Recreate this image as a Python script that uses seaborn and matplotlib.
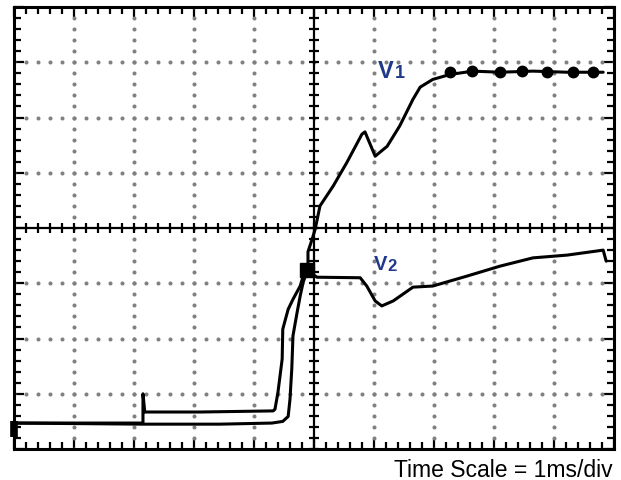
import numpy as np
import pandas as pd
import matplotlib
matplotlib.use("Agg")
import matplotlib.pyplot as plt
import seaborn as sns

# scope screen: x in ms (1 ms/div), y in divisions, centre of screen = (0, 0)
v1_t = [-5.0, -2.85, -1.57, -0.70, -0.52, -0.43, -0.40, -0.37, -0.35, -0.28, -0.23,
        -0.18, -0.10, -0.10, -0.03, 0.02, 0.10, 0.32, 0.55, 0.80, 0.85, 1.02, 1.22,
        1.43, 1.65, 1.77, 1.98, 2.27, 2.65, 3.10, 3.65, 4.22, 4.82]
v1_v = [-3.53, -3.55, -3.55, -3.53, -3.50, -3.41, -3.10, -2.55, -1.95, -1.52, -1.23,
        -0.98, -0.74, -0.43, -0.20, -0.02, 0.40, 0.76, 1.19, 1.70, 1.74, 1.30, 1.48,
        1.85, 2.33, 2.55, 2.69, 2.78, 2.84, 2.82, 2.84, 2.82, 2.82]

v2_t = [-5.0, -2.85, -2.85, -2.82, -1.90, -0.68, -0.65, -0.60, -0.53, -0.52, -0.43,
        -0.35, -0.23, -0.18, -0.10, 0.05, 0.77, 0.88, 1.02, 1.13, 1.32, 1.65, 1.98,
        2.55, 3.10, 3.65, 4.22, 4.82, 4.87]
v2_v = [-3.53, -3.53, -3.00, -3.33, -3.33, -3.31, -3.28, -2.97, -2.37, -1.83, -1.47,
        -1.29, -1.05, -0.87, -0.78, -0.89, -0.90, -1.05, -1.32, -1.41, -1.32, -1.07,
        -1.05, -0.87, -0.69, -0.54, -0.49, -0.40, -0.60]

# thick blobs along the settled V1 level
blob_t = [2.27, 2.63, 3.10, 3.47, 3.88, 4.32, 4.65]
blob_v = [2.83, 2.84, 2.82, 2.84, 2.83, 2.83, 2.83]

# ground-level marker on the left edge and trigger point
gnd_t, gnd_v = [-5.0], [-3.64]
trig_t, trig_v = [-0.12], [-0.76]

df = pd.concat([
    pd.DataFrame({"t": v1_t, "v": v1_v, "trace": "V1"}),
    pd.DataFrame({"t": v2_t, "v": v2_v, "trace": "V2"}),
], ignore_index=True)

sns.set_style("white")
plt.rcParams["font.family"] = ["Liberation Sans", "DejaVu Sans"]

fig = plt.figure(figsize=(6.21, 4.81), dpi=100)
ax = fig.add_axes([0.0225, 0.0644, 0.9662, 0.9189])
ax.set_xlim(-5, 5)
ax.set_ylim(-4, 4)

minor_x = np.arange(-5, 5.001, 0.2)
minor_y = np.arange(-4, 4.001, 0.2)

# dotted graticule
for gx in range(-4, 5):
    if gx != 0:
        ax.plot(np.full(len(minor_y), gx), minor_y, ls="none", marker="o",
                ms=1.9, color="#808080", zorder=1)
for gy in range(-3, 4):
    if gy != 0:
        ax.plot(minor_x, np.full(len(minor_x), gy), ls="none", marker="o",
                ms=1.9, color="#808080", zorder=1)

# centre axes with their small ticks
ax.axhline(0, color="black", lw=1.6, zorder=2)
ax.axvline(0, color="black", lw=1.6, zorder=2)
ax.plot(minor_x, np.zeros(len(minor_x)), ls="none", marker="|", ms=7, mew=1.6,
        color="black", zorder=2)
ax.plot(np.zeros(len(minor_y)), minor_y, ls="none", marker="_", ms=7, mew=1.6,
        color="black", zorder=2)

# traces
sns.lineplot(data=df, x="t", y="v", hue="trace", units="trace",
             palette={"V1": "black", "V2": "black"}, sort=False, estimator=None,
             legend=False, lw=2.2, ax=ax, zorder=3)
ax.plot(blob_t, blob_v, ls="none", marker="o", ms=7.5, color="black", zorder=3)
ax.plot(gnd_t, gnd_v, ls="none", marker="|", ms=12, mew=5.5, color="black",
        zorder=4, clip_on=False)
ax.plot(trig_t, trig_v, ls="none", marker="s", ms=10, color="black", zorder=4)

# frame with ticks on all edges
for side in ax.spines.values():
    side.set_linewidth(2.2)
    side.set_color("black")
ax.set_xticks(np.arange(-5, 5.001, 1))
ax.set_yticks(np.arange(-4, 4.001, 1))
ax.set_xticks(minor_x, minor=True)
ax.set_yticks(minor_y, minor=True)
ax.tick_params(which="both", direction="in", top=True, right=True, bottom=True,
               left=True, labelbottom=False, labelleft=False, width=1.6,
               color="black")
ax.tick_params(which="major", length=7)
ax.tick_params(which="minor", length=5)
ax.set_xlabel("")
ax.set_ylabel("")

label_color = "#1f3a8a"
ax.text(1.06, 2.73, "V", fontsize=17, fontweight="bold", color=label_color,
        va="baseline", ha="left", zorder=5)
ax.text(1.35, 2.73, "1", fontsize=13, fontweight="bold", color=label_color,
        va="baseline", ha="left", zorder=5)
ax.text(0.99, -0.74, "V", fontsize=14.5, fontweight="bold", color=label_color,
        va="baseline", ha="left", zorder=5)
ax.text(1.23, -0.76, "2", fontsize=12, fontweight="bold", color=label_color,
        va="baseline", ha="left", zorder=5)

fig.text(0.987, 0.008, "Time Scale = 1ms/div", fontsize=16.5, ha="right",
         va="baseline", color="black")

fig.savefig("out.png", dpi=100)
plt.close(fig)
